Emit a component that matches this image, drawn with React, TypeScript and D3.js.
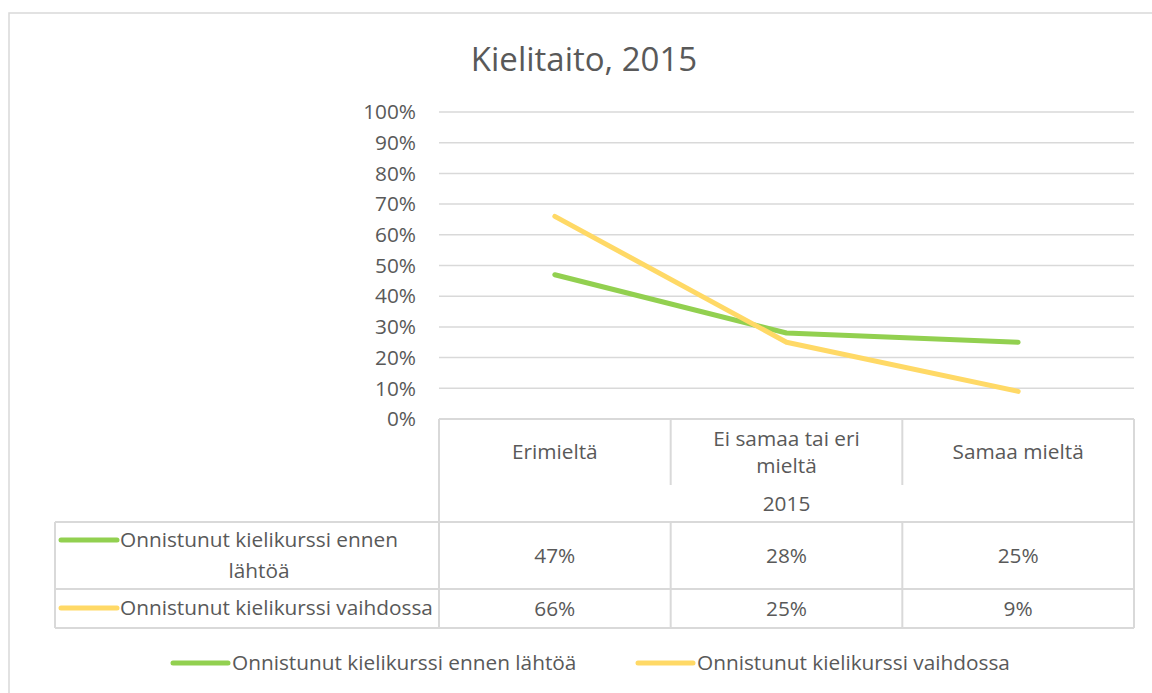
import React, { useEffect, useRef } from 'react';
import * as d3 from 'd3';

const categories = ['Erimieltä', 'Ei samaa tai eri mieltä', 'Samaa mieltä'];
const categoryLines = [['Erimieltä'], ['Ei samaa tai eri', 'mieltä'], ['Samaa mieltä']];
const seriesNames = ['Onnistunut kielikurssi ennen lähtöä', 'Onnistunut kielikurssi vaihdossa'];
const seriesColors = ['#92d050', '#ffd966'];
const beforeValues = [0.47, 0.28, 0.25];
const exchangeValues = [0.66, 0.25, 0.09];
const groupLabel = '2015';
const title = 'Kielitaito, 2015';

const W = 1152;
const H = 693;
const FONT = "'Open Sans', sans-serif";
const TEXT = '#595959';
const GRID = '#d9d9d9';
const FS = 20.8;

const App = () => {
  const ref = useRef<SVGSVGElement>(null);

  useEffect(() => {
    const svg = d3.select(ref.current);
    svg.selectAll('*').remove();

    const plot = { left: 439, right: 1134, top: 112, bottom: 419 };
    const table = { left: 55, catBottom: 485, groupBottom: 522, row1: 589, row2: 628 };

    const x = d3.scaleBand().domain(categories).range([plot.left, plot.right]);
    const y = d3.scaleLinear().domain([0, 1]).range([plot.bottom, plot.top]);

    // chart frame
    svg
      .append('rect')
      .attr('x', 9)
      .attr('y', 13)
      .attr('width', 1170)
      .attr('height', 720)
      .attr('fill', '#fff')
      .attr('stroke', GRID)
      .attr('stroke-width', 1.5);

    // title
    svg
      .append('text')
      .attr('x', 584)
      .attr('y', 71)
      .attr('text-anchor', 'middle')
      .attr('font-family', FONT)
      .attr('font-size', 33)
      .attr('fill', TEXT)
      .text(title);

    // gridlines + y ticks
    const ticks = y.ticks(10);
    svg
      .append('g')
      .selectAll('line')
      .data(ticks.filter((t) => t > 0))
      .enter()
      .append('line')
      .attr('x1', plot.left)
      .attr('x2', plot.right)
      .attr('y1', (d) => y(d))
      .attr('y2', (d) => y(d))
      .attr('stroke', GRID)
      .attr('stroke-width', 1.5);

    svg
      .append('g')
      .selectAll('text')
      .data(ticks)
      .enter()
      .append('text')
      .attr('x', 416)
      .attr('y', (d) => y(d))
      .attr('dy', '0.35em')
      .attr('text-anchor', 'end')
      .attr('font-family', FONT)
      .attr('font-size', FS)
      .attr('fill', TEXT)
      .text(d3.format('.0%'));

    // data table lines
    const tg = svg.append('g').attr('stroke', GRID).attr('stroke-width', 2).attr('fill', 'none');
    const hl = (x1: number, x2: number, yy: number) =>
      tg.append('line').attr('x1', x1).attr('x2', x2).attr('y1', yy).attr('y2', yy);
    const vl = (xx: number, y1: number, y2: number) =>
      tg.append('line').attr('x1', xx).attr('x2', xx).attr('y1', y1).attr('y2', y2);

    hl(plot.left, plot.right, plot.bottom);
    hl(table.left, plot.right, table.groupBottom);
    hl(table.left, plot.right, table.row1);
    hl(table.left, plot.right, table.row2);
    vl(plot.left, plot.bottom, table.row2);
    vl(plot.right, plot.bottom, table.row2);
    vl(table.left, table.groupBottom, table.row2);
    categories.slice(1).forEach((c) => {
      vl(x(c) as number, plot.bottom, table.catBottom);
      vl(x(c) as number, table.groupBottom, table.row2);
    });

    const txt = (g: any, s: string, xx: number, yy: number, anchor = 'middle') =>
      g
        .append('text')
        .attr('x', xx)
        .attr('y', yy)
        .attr('dy', '0.35em')
        .attr('text-anchor', anchor)
        .attr('font-family', FONT)
        .attr('font-size', FS)
        .attr('fill', TEXT)
        .text(s);

    const lg = svg.append('g');
    categories.forEach((c, i) => {
      const cx = (x(c) as number) + x.bandwidth() / 2;
      const lines = categoryLines[i];
      const mid = (plot.bottom + table.catBottom) / 2;
      lines.forEach((s, j) => txt(lg, s, cx, mid + (j - (lines.length - 1) / 2) * 27));
    });
    txt(lg, groupLabel, plot.left + (plot.right - plot.left) / 2, (table.catBottom + table.groupBottom) / 2);

    const seriesValues = [beforeValues, exchangeValues];
    const rowCenters = [(table.groupBottom + table.row1) / 2, (table.row1 + table.row2) / 2];
    seriesValues.forEach((vals, si) => {
      vals.forEach((v, ci) => {
        txt(lg, d3.format('.0%')(v), (x(categories[ci]) as number) + x.bandwidth() / 2, rowCenters[si]);
      });
    });

    // row headers with legend keys
    const keyW = 56;
    const rowKeyY = [540, 608];
    rowKeyY.forEach((ky, si) => {
      lg.append('line')
        .attr('x1', 61)
        .attr('x2', 61 + keyW)
        .attr('y1', ky)
        .attr('y2', ky)
        .attr('stroke', seriesColors[si])
        .attr('stroke-width', 5)
        .attr('stroke-linecap', 'round');
    });
    txt(lg, 'Onnistunut kielikurssi ennen', 120, rowKeyY[0], 'start');
    txt(lg, 'lähtöä', 259, rowKeyY[0] + 31);
    txt(lg, seriesNames[1], 120, rowKeyY[1], 'start');

    // lines
    const line = d3
      .line<number>()
      .x((_, i) => (x(categories[i]) as number) + x.bandwidth() / 2)
      .y((d) => y(d));

    svg
      .append('g')
      .selectAll('path')
      .data(seriesValues)
      .enter()
      .append('path')
      .attr('d', (d) => line(d))
      .attr('fill', 'none')
      .attr('stroke', (_, i) => seriesColors[i])
      .attr('stroke-width', 5)
      .attr('stroke-linecap', 'round')
      .attr('stroke-linejoin', 'round');

    // bottom legend
    const legendX = [173, 638];
    legendX.forEach((lx, si) => {
      lg.append('line')
        .attr('x1', lx)
        .attr('x2', lx + 55)
        .attr('y1', 663)
        .attr('y2', 663)
        .attr('stroke', seriesColors[si])
        .attr('stroke-width', 5)
        .attr('stroke-linecap', 'round');
      txt(lg, seriesNames[si], lx + 59, 663, 'start');
    });
  }, []);

  return (
    <svg
      ref={ref}
      width={W}
      height={H}
      style={{ position: 'absolute', left: 0, top: 0, display: 'block', background: '#fff' }}
    />
  );
};

export default App;
